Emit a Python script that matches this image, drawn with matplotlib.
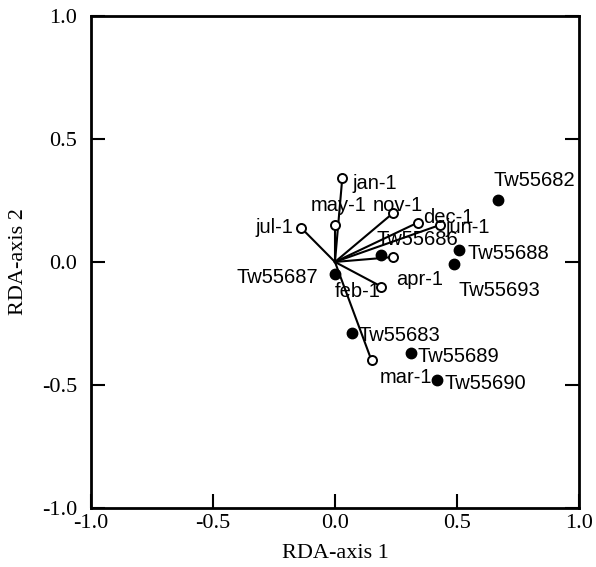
import matplotlib.pyplot as plt

# month vectors (open circles at tips)
months = ["jan-1", "feb-1", "mar-1", "apr-1", "may-1", "jun-1",
          "jul-1", "nov-1", "dec-1"]
month_x = [0.03, 0.19, 0.15, 0.24, 0.00, 0.43, -0.14, 0.24, 0.34]
month_y = [0.34, -0.10, -0.40, 0.02, 0.15, 0.15, 0.14, 0.20, 0.16]

# sites (filled circles)
sites = ["Tw55682", "Tw55683", "Tw55686", "Tw55687", "Tw55688",
         "Tw55689", "Tw55690", "Tw55693"]
site_x = [0.67, 0.07, 0.19, 0.00, 0.51, 0.31, 0.42, 0.49]
site_y = [0.25, -0.29, 0.03, -0.05, 0.05, -0.37, -0.48, -0.01]

# label anchors (x, y, horizontal alignment)
month_lab = {
    "jan-1": (0.07, 0.32, "left"),
    "feb-1": (0.00, -0.12, "left"),
    "mar-1": (0.40, -0.47, "right"),
    "apr-1": (0.25, -0.07, "left"),
    "may-1": (-0.10, 0.23, "left"),
    "jun-1": (0.455, 0.14, "left"),
    "jul-1": (-0.17, 0.14, "right"),
    "nov-1": (0.155, 0.23, "left"),
    "dec-1": (0.36, 0.18, "left"),
}
site_lab = {
    "Tw55682": (0.65, 0.33, "left"),
    "Tw55683": (0.095, -0.30, "left"),
    "Tw55686": (0.17, 0.09, "left"),
    "Tw55687": (-0.07, -0.065, "right"),
    "Tw55688": (0.545, 0.035, "left"),
    "Tw55689": (0.34, -0.385, "left"),
    "Tw55690": (0.45, -0.495, "left"),
    "Tw55693": (0.505, -0.115, "left"),
}

fig = plt.figure(figsize=(5.96, 5.67), dpi=100)
ax = fig.add_axes([0.153, 0.104, 0.818, 0.868])

sans = "Liberation Sans"
serif = "Liberation Serif"

for mx, my in zip(month_x, month_y):
    ax.plot([0, mx], [0, my], color="black", lw=1.5, zorder=1)
ax.plot(month_x, month_y, "o", ms=6.5, mfc="white", mec="black", mew=1.4, zorder=3)
ax.plot(site_x, site_y, "o", ms=7.5, color="black", zorder=3)

for name in months:
    x, y, ha = month_lab[name]
    ax.text(x, y, name, ha=ha, va="center", fontsize=14.5, family=sans, zorder=4)
for name in sites:
    x, y, ha = site_lab[name]
    ax.text(x, y, name, ha=ha, va="center", fontsize=14.5, family=sans, zorder=4)

ax.set_xlim(-1, 1)
ax.set_ylim(-1, 1)
ticks = [-1.0, -0.5, 0.0, 0.5, 1.0]
ax.set_xticks(ticks)
ax.set_yticks(ticks)
ax.set_xticklabels([f"{t:.1f}" for t in ticks], family=serif, fontsize=16)
ax.set_yticklabels([f"{t:.1f}" for t in ticks], family=serif, fontsize=16)
ax.tick_params(direction="in", length=10, width=1.5, right=True)
ax.tick_params(axis="x", pad=4)
ax.tick_params(axis="y", pad=10)
for sp in ax.spines.values():
    sp.set_linewidth(2)

ax.set_xlabel("RDA-axis 1", family=serif, fontsize=16, labelpad=8)
ax.set_ylabel("RDA-axis 2", family=serif, fontsize=16, labelpad=10)

fig.savefig("out.png", dpi=100)
